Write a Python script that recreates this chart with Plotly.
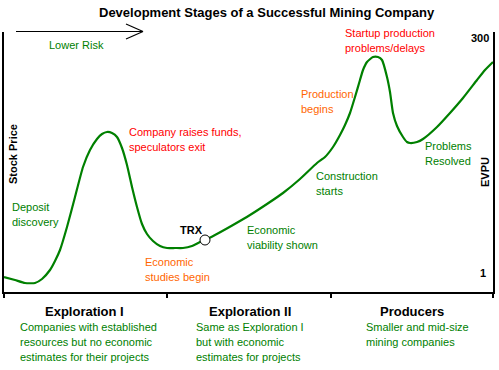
import plotly.graph_objects as go

# Curve (x: horizontal position, y: height above baseline)
curve_x = [0, 11, 21, 31, 38, 46, 51, 56, 63, 71, 79, 86, 93, 98, 103, 108, 113, 118, 123,
           128, 133, 138, 143, 149, 156, 163, 171, 179, 188, 196, 201, 211, 229, 246, 263,
           279, 296, 313, 321, 329, 336, 341, 346, 351, 356, 359, 363, 369, 374, 378, 383,
           386, 389, 393, 399, 403, 406, 413, 419, 433, 446, 459, 473, 481, 489]
curve_y = [15, 12, 9, 9, 13, 22, 31, 42, 65, 95, 125, 142, 153, 158, 160, 159, 155, 144,
           127, 105, 85, 68, 58, 51, 46, 44, 44, 44, 46, 50, 52, 57, 67, 77, 88, 99, 113,
           129, 135, 145, 157, 167, 179, 195, 212, 222, 230, 235, 235, 232, 215, 200, 179,
           166, 155, 150, 149, 150, 153, 165, 179, 194, 212, 222, 230]
trx_x = [201]
trx_y = [52]

GREEN = "#008000"
RED = "#ff0000"
ORANGE = "#ff6600"
FONT = "Liberation Sans, Arial, sans-serif"

W, H = 499, 370
L, R, T, B = 4, 6, 32, 78
PW, PH = W - L - R, H - T - B


def px(x, y):
    return (x - L) / PW, (T + PH - y) / PH


fig = go.Figure()
fig.add_trace(go.Scatter(x=curve_x, y=curve_y, mode="lines",
                         line=dict(color=GREEN, width=2.2, shape="spline", smoothing=0.5),
                         hoverinfo="skip", showlegend=False))
fig.add_trace(go.Scatter(x=trx_x, y=trx_y, mode="markers",
                         marker=dict(size=10, color="white", line=dict(color="black", width=1)),
                         hoverinfo="skip", showlegend=False, cliponaxis=False))

annos = []


def txt(s, x, y, color="black", size=11, bold=False, anchor="left"):
    ax, ay = px(x, y)
    if bold:
        s = "<b>" + s + "</b>"
    annos.append(dict(text=s, x=ax, y=ay, xref="paper", yref="paper", showarrow=False,
                      xanchor=anchor, yanchor="middle",
                      font=dict(family=FONT, size=size, color=color)))


txt("Development Stages of a Successful Mining Company", 267, 12, size=13, bold=True, anchor="center")
txt("Lower Risk", 47, 45, GREEN)
txt("300", 491, 38, bold=True, anchor="right")
txt("1", 488, 273, bold=True, anchor="right")
txt("Company raises funds,", 127, 132, RED)
txt("speculators exit", 127, 147, RED)
txt("Deposit", 10, 207, GREEN)
txt("discovery", 10, 222, GREEN)
txt("TRX", 178, 230, bold=True)
txt("Economic", 143, 262, ORANGE)
txt("studies begin", 143, 277, ORANGE)
txt("Economic", 245, 230, GREEN)
txt("viability shown", 245, 245, GREEN)
txt("Construction", 314, 176, GREEN)
txt("starts", 314, 191, GREEN)
txt("Production", 299, 94, ORANGE)
txt("begins", 299, 109, ORANGE)
txt("Startup production", 343, 33, RED)
txt("problems/delays", 343, 48, RED)
txt("Problems", 423, 146, GREEN)
txt("Resolved", 423, 161, GREEN)

txt("Exploration I", 84, 311, size=13, bold=True, anchor="center")
txt("Exploration II", 250, 311, size=13, bold=True, anchor="center")
txt("Producers", 412, 311, size=13, bold=True, anchor="center")
for i, s in enumerate(["Companies with established", "resources but no economic",
                       "estimates for their projects"]):
    txt(s, 18, 327 + 15 * i, GREEN)
for i, s in enumerate(["Same as Exploration I", "but with economic", "estimates for projects"]):
    txt(s, 194, 327 + 15 * i, GREEN)
for i, s in enumerate(["Smaller and mid-size", "mining companies"]):
    txt(s, 364, 327 + 15 * i, GREEN)

# vertical axis titles
ax_, ay_ = px(13, 154)
annos.append(dict(text="<b>Stock Price</b>", x=ax_, y=ay_, xref="paper", yref="paper",
                  showarrow=False, textangle=-90, xanchor="center", yanchor="middle",
                  font=dict(family=FONT, size=11, color="black")))
ax_, ay_ = px(485, 172)
annos.append(dict(text="<b>EVPU</b>", x=ax_, y=ay_, xref="paper", yref="paper",
                  showarrow=False, textangle=-90, xanchor="center", yanchor="middle",
                  font=dict(family=FONT, size=11, color="black")))

# "Lower Risk" arrow
shapes = []
for (x0, y0, x1, y1) in [(16, 31.5, 143, 31.5), (126, 24, 143, 31.5), (126, 39, 143, 31.5)]:
    a0, b0 = px(x0, y0)
    a1, b1 = px(x1, y1)
    shapes.append(dict(type="line", xref="paper", yref="paper", x0=a0, y0=b0, x1=a1, y1=b1,
                       line=dict(color="black", width=1.2)))

fig.update_layout(
    width=W, height=H, margin=dict(l=L, r=R, t=T, b=B),
    plot_bgcolor="white", paper_bgcolor="white",
    annotations=annos, shapes=shapes, showlegend=False,
    xaxis=dict(range=[0, 489], showgrid=False, zeroline=False, showline=True,
               linecolor="black", linewidth=1.5, ticks="outside", ticklen=4,
               tickcolor="black", tickwidth=1.5, tickvals=[0, 163, 327, 489],
               showticklabels=False, fixedrange=True),
    yaxis=dict(range=[0, 260], showgrid=False, zeroline=False, showline=True, mirror=True,
               linecolor="black", linewidth=1.5, ticks="", showticklabels=False,
               fixedrange=True),
)
fig.write_html("out.html", config={"displayModeBar": False},
               post_script="document.body.style.margin='0';document.body.style.padding='0';")
